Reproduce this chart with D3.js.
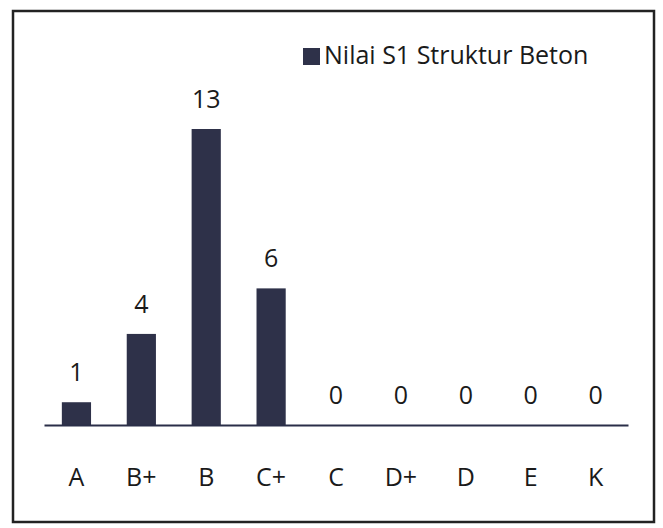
<!DOCTYPE html>
<html>
<head>
<meta charset="utf-8">
<script src="https://cdn.jsdelivr.net/npm/d3@7"></script>
<style>
  body { margin: 0; background: #fff; }
  text { font-family: "Open Sans", Lato, sans-serif; fill: #1a1a1a; }
</style>
</head>
<body>
<svg></svg>
<script>
var grades = ["A", "B+", "B", "C+", "C", "D+", "D", "E", "K"];
var counts = [1, 4, 13, 6, 0, 0, 0, 0, 0];
var seriesName = "Nilai S1 Struktur Beton";

var svgWidth = 663, svgHeight = 528;
var barColor = "#2e3149";
var fontSize = "25px";

var svg = d3.select("svg")
    .attr("width", svgWidth)
    .attr("height", svgHeight);

// outer frame
svg.append("rect")
    .attr("x", 13)
    .attr("y", 11)
    .attr("width", 641)
    .attr("height", 511)
    .attr("fill", "#fff")
    .attr("stroke", "#222")
    .attr("stroke-width", 2.5);

var x = d3.scaleBand()
    .domain(grades)
    .range([44, 628])
    .paddingInner(0.55)
    .paddingOuter(0.275);

var y = d3.scaleLinear()
    .domain([0, 13])
    .range([425, 129]);

var data = grades.map(function(g, i) { return { grade: g, value: counts[i] }; });

svg.selectAll(".bar")
    .data(data)
    .enter().append("rect")
    .attr("class", "bar")
    .attr("x", function(d) { return x(d.grade); })
    .attr("y", function(d) { return y(d.value); })
    .attr("width", x.bandwidth())
    .attr("height", function(d) { return y(0) - y(d.value); })
    .attr("fill", barColor);

// category axis
var axis = svg.append("g")
    .attr("transform", "translate(0," + y(0) + ")")
    .call(d3.axisBottom(x).tickSize(0).tickPadding(0));

axis.select(".domain")
    .attr("stroke", "#2a2e48")
    .attr("stroke-width", 2);

axis.selectAll(".tick text")
    .attr("y", 61)
    .attr("dy", 0)
    .style("font-size", fontSize)
    .style("font-family", "'Open Sans', Lato, sans-serif")
    .attr("fill", "#1a1a1a");

// value labels
svg.selectAll(".val")
    .data(data)
    .enter().append("text")
    .attr("class", "val")
    .attr("x", function(d) { return x(d.grade) + x.bandwidth() / 2; })
    .attr("y", function(d) { return y(d.value) - 21; })
    .attr("text-anchor", "middle")
    .style("font-size", fontSize)
    .text(function(d) { return d.value; });

// legend
var legend = svg.append("g");
legend.append("rect")
    .attr("x", 303)
    .attr("y", 48)
    .attr("width", 17)
    .attr("height", 17)
    .attr("fill", barColor);
legend.append("text")
    .attr("x", 324)
    .attr("y", 64)
    .style("font-size", fontSize)
    .text(seriesName);
</script>
</body>
</html>
